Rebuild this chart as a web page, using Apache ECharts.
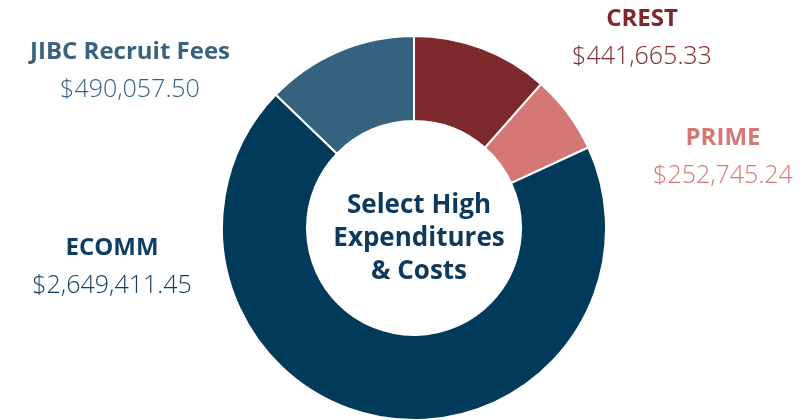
<!DOCTYPE html>
<html>
<head>
<meta charset="utf-8">
<script src="https://cdn.jsdelivr.net/npm/echarts@6/dist/echarts.min.js"></script>
<style>
    html, body { margin: 0; padding: 0; background: #fff; }
    #chart { width: 812px; height: 420px; }
</style>
</head>
<body>
<div id="chart"></div>
<script>
    const categories = ['CREST', 'PRIME', 'ECOMM', 'JIBC Recruit Fees']
    const amounts = [441665.33, 252745.24, 2649411.45, 490057.50]
    const sliceColors = ['#7d292c', '#d47775', '#023a5c', '#35637f']
    const labelColors = ['#7d292c', '#d47775', '#0f3d5f', '#38637f']
    const centerTitle = 'Select High\nExpenditures\n& Costs'

    // where each label block sits (center x, top y)
    const labelSpots = [[642, 1], [723, 120], [112, 230], [130, 34]]

    const fmt = v => '$' + v.toLocaleString('en-US', { minimumFractionDigits: 2, maximumFractionDigits: 2 })

    const chart = echarts.init(document.getElementById('chart'))
    chart.setOption({
        animation: false,
        title: {
            text: centerTitle,
            left: 414,
            top: 184,
            textAlign: 'center',
            textStyle: {
                fontFamily: 'Open Sans',
                fontWeight: 'bold',
                fontSize: 26,
                lineHeight: 33,
                color: '#0d3a5c'
            }
        },
        series: [{
            type: 'pie',
            center: [414, 228],
            radius: [107, 192],
            startAngle: 90,
            clockwise: true,
            itemStyle: { borderColor: '#fff', borderWidth: 2 },
            labelLine: { show: false },
            label: {
                show: true,
                position: 'outside',
                formatter: p => '{t' + p.dataIndex + '|' + p.name + '}\n{v' + p.dataIndex + '|' + fmt(p.value) + '}',
                rich: Object.fromEntries(categories.flatMap((c, i) => [
                    ['t' + i, { fontFamily: 'Open Sans', fontWeight: 'bold', fontSize: 24, lineHeight: 37, color: labelColors[i], align: 'center' }],
                    ['v' + i, { fontFamily: 'Open Sans', fontWeight: 300, fontSize: 25, lineHeight: 37, color: labelColors[i], align: 'center' }]
                ]))
            },
            labelLayout: p => ({
                x: labelSpots[p.dataIndex][0],
                y: labelSpots[p.dataIndex][1],
                align: 'center',
                verticalAlign: 'top'
            }),
            data: categories.map((c, i) => ({
                name: c,
                value: amounts[i],
                itemStyle: { color: sliceColors[i] }
            }))
        }]
    })
</script>
</body>
</html>
